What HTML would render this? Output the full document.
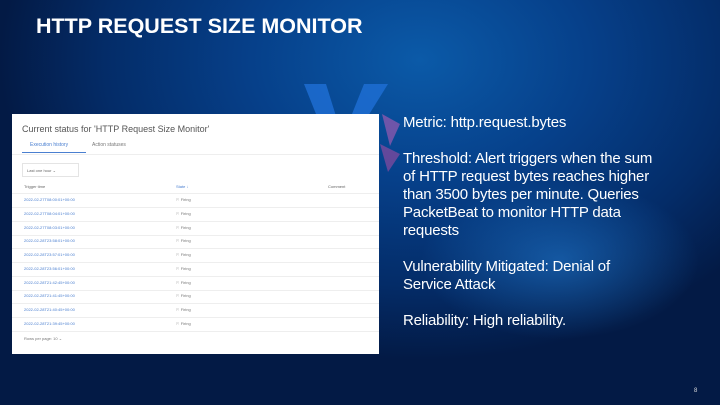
<!DOCTYPE html>
<html><head><meta charset="utf-8"><style>
*{margin:0;padding:0;box-sizing:border-box}
body{width:720px;height:405px;overflow:hidden;position:relative;font-family:"Liberation Sans",sans-serif;
background:radial-gradient(ellipse 420px 300px at 420px 60px,#0b5aa8 0%,#06408a 40%,#042c68 75%,#031a45 100%);}
.glow{position:absolute;left:420px;top:180px;width:280px;height:160px;background:radial-gradient(ellipse at center,rgba(40,140,230,0.45),rgba(20,80,180,0) 70%)}
.title{position:absolute;left:36px;top:14px;color:#fff;font-weight:bold;font-size:21.5px;letter-spacing:0}
.shot{position:absolute;left:12px;top:114px;width:367px;height:240px;background:#fff}
.shot .h{position:absolute;left:10px;top:10px;font-size:9px;color:#555}
.tab{position:absolute;top:28px;font-size:5px;color:#777}
.line{position:absolute;left:0;right:0;height:1px;background:#eee}
.row{position:absolute;left:12px;font-size:4px;color:#4a7fd0}
.st{position:absolute;left:164px;font-size:4px;color:#777}
.txt{position:absolute;left:403px;top:114px;color:#fff;font-size:15px;line-height:18px;width:262px;letter-spacing:-0.2px}
.txt p{margin-bottom:18px}
.pg{position:absolute;left:694px;top:388px;color:#ddd;font-size:6px}
</style></head><body>
<div class="glow"></div>
<svg style="position:absolute;left:300px;top:84px" width="100" height="100">
<polygon points="4,0 26,0 40,45 22,45" fill="#1f6fd6" opacity="0.8"/>
<polygon points="64,0 88,0 60,45 46,45" fill="#1f6fd6" opacity="0.8"/>
<polygon points="82,30 100,40 90,62" fill="#9a5ab0" opacity="0.7"/>
<polygon points="80,60 100,70 88,88" fill="#8a4aa0" opacity="0.7"/>
</svg>
<div class="title">HTTP REQUEST SIZE MONITOR</div>
<div class="shot">
<div class="h">Current status for 'HTTP Request Size Monitor'</div>
<div class="tab" style="left:18px;color:#4a7fd0">Execution history</div>
<div class="tab" style="left:80px">Action statuses</div>
<div style="position:absolute;left:10px;top:38px;width:64px;height:1px;background:#4a7fd0"></div>
<div class="line" style="top:40px"></div>
<div style="position:absolute;left:10px;top:49px;width:57px;height:14px;border:1px solid #e4e4e4;font-size:4px;color:#666;padding:4px">Last one hour ⌄</div>
<div style="position:absolute;left:12px;top:70px;font-size:4px;color:#666">Trigger time</div>
<div style="position:absolute;left:164px;top:70px;font-size:4px;color:#4a7fd0">State ↓</div>
<div style="position:absolute;left:316px;top:70px;font-size:4px;color:#666">Comment</div>
<div class="line" style="top:79px"></div>
<div class="row" style="top:83px">2022-02-27T08:00:01+00:00</div><div class="st" style="top:83px">⚐ Firing</div><div class="line" style="top:93px"></div>
<div class="row" style="top:97px">2022-02-27T08:04:01+00:00</div><div class="st" style="top:97px">⚐ Firing</div><div class="line" style="top:107px"></div>
<div class="row" style="top:111px">2022-02-27T08:03:01+00:00</div><div class="st" style="top:111px">⚐ Firing</div><div class="line" style="top:121px"></div>
<div class="row" style="top:124px">2022-02-28T23:58:01+00:00</div><div class="st" style="top:124px">⚐ Firing</div><div class="line" style="top:134px"></div>
<div class="row" style="top:138px">2022-02-28T23:57:01+00:00</div><div class="st" style="top:138px">⚐ Firing</div><div class="line" style="top:148px"></div>
<div class="row" style="top:152px">2022-02-28T23:56:01+00:00</div><div class="st" style="top:152px">⚐ Firing</div><div class="line" style="top:162px"></div>
<div class="row" style="top:166px">2022-02-28T21:42:45+00:00</div><div class="st" style="top:166px">⚐ Firing</div><div class="line" style="top:176px"></div>
<div class="row" style="top:179px">2022-02-28T21:41:45+00:00</div><div class="st" style="top:179px">⚐ Firing</div><div class="line" style="top:189px"></div>
<div class="row" style="top:193px">2022-02-28T21:40:45+00:00</div><div class="st" style="top:193px">⚐ Firing</div><div class="line" style="top:203px"></div>
<div class="row" style="top:207px">2022-02-28T21:39:45+00:00</div><div class="st" style="top:207px">⚐ Firing</div><div class="line" style="top:217px"></div>
<div style="position:absolute;left:12px;top:222px;font-size:4px;color:#777">Rows per page: 10 ⌄</div>
</div>
<div class="txt">
<p>Metric: http.request.bytes</p>
<p>Threshold: Alert triggers when the sum of HTTP request bytes reaches higher than 3500 bytes per minute. Queries PacketBeat to monitor HTTP data requests</p>
<p>Vulnerability Mitigated: Denial of<br>Service Attack</p>
<p>Reliability: High reliability.</p>
</div>
<div class="pg">8</div>
</body></html>
